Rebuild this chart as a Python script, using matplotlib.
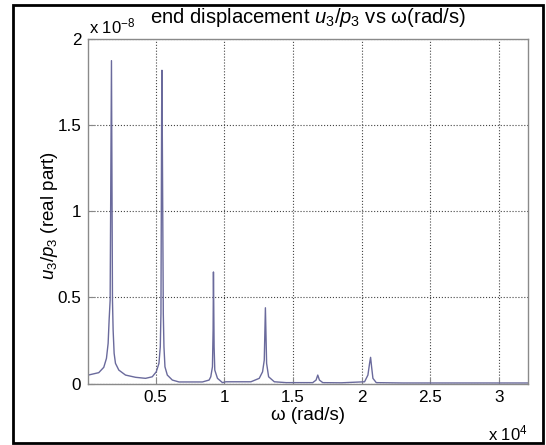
import matplotlib
matplotlib.use("Agg")
import matplotlib.pyplot as plt
from matplotlib.patches import Rectangle

plt.rcParams['font.family'] = ['Liberation Sans', 'DejaVu Sans']
plt.rcParams['mathtext.fontset'] = 'custom'
plt.rcParams['mathtext.rm'] = 'Liberation Sans'
plt.rcParams['mathtext.it'] = 'Liberation Sans:italic'

# frequency (rad/s) and real part of u3/p3 (units of 1e-8)
omega = [100, 861, 1226, 1421, 1543, 1615, 1689, 1786, 1859, 1907, 1980, 2078,
         2321, 2808, 3538, 4268, 4754, 5046, 5241, 5339, 5387, 5440, 5460, 5558,
         5606, 5679, 5850, 6215, 6701, 8405, 8891, 9013, 9135, 9183, 9208, 9256,
         9305, 9500, 9865, 10108, 11935, 12541, 12783, 12906, 12989, 13077, 13223,
         13637, 14500, 16434, 16677, 16799, 16921, 17165, 18500, 20206, 20449,
         20571, 20644, 20717, 20814, 21057, 23000, 27000, 32100]
resp = [0.049, 0.063, 0.094, 0.146, 0.233, 0.368, 0.484, 1.876, 0.484, 0.31,
        0.175, 0.117, 0.078, 0.049, 0.036, 0.030, 0.039, 0.068, 0.117, 0.213,
        0.407, 1.61, 1.82, 0.407, 0.213, 0.097, 0.049, 0.020, 0.009, 0.009,
        0.020, 0.039, 0.097, 0.31, 0.648, 0.213, 0.078, 0.03, 0.005, 0.01,
        0.01, 0.03, 0.068, 0.136, 0.44, 0.117, 0.039, 0.01, 0.005, 0.005, 0.02,
        0.049, 0.02, 0.005, 0.004, 0.01, 0.049, 0.117, 0.152, 0.097, 0.03,
        0.005, 0.003, 0.003, 0.003]

xticks = [0.5, 1, 1.5, 2, 2.5, 3]
xtick_labels = ['0.5', '1', '1.5', '2', '2.5', '3']
yticks = [0, 0.5, 1, 1.5, 2]
ytick_labels = ['0', '0.5', '1', '1.5', '2']

W, H = 546, 445
fig = plt.figure(figsize=(W / 100, H / 100), dpi=100)
ax = fig.add_axes([88.3 / W, 1 - 383.5 / H, (528 - 88.3) / W, (383.5 - 39.3) / H])

x = [w / 1e4 for w in omega]
ax.plot(x, resp, color='#6a6a9c', lw=1.0)

ax.set_xlim(0.01, 3.21)
ax.set_ylim(0, 2)
ax.set_xticks(xticks)
ax.set_xticklabels(xtick_labels)
ax.set_yticks(yticks)
ax.set_yticklabels(ytick_labels)
ax.tick_params(direction='in', length=4, color='#888888', labelsize=12.3, pad=5)
ax.grid(True, linestyle=':', color='#444444', lw=0.8)
for s in ax.spines.values():
    s.set_color('#8a8a8a')
    s.set_linewidth(1.0)

fig.text(308 / W, 1 - 23 / H, r"end displacement $\it{u_3/p_3}$ vs ω(rad/s)",
         ha='center', va='baseline', fontsize=14.6)
fig.text(89 / W, 1 - 33 / H, r"x 10$^{-8}$", ha='left', va='baseline', fontsize=12)
fig.text(308 / W, 1 - 416 / H, "ω (rad/s)", ha='center', va='center', fontsize=13.5)
fig.text(488 / W, 1 - 440 / H, r"x 10$^{4}$", ha='left', va='baseline', fontsize=12)
fig.text(50 / W, 1 - 215 / H, r"$\it{u_3/p_3}$ (real part)", ha='center',
         va='center', rotation=90, fontsize=13.5)

fig.patches.append(Rectangle((13 / W, 2 / H), (543 - 13) / W, (443 - 5) / H,
                             transform=fig.transFigure, fill=False,
                             edgecolor='black', lw=2))

fig.savefig('out.png', dpi=100)
